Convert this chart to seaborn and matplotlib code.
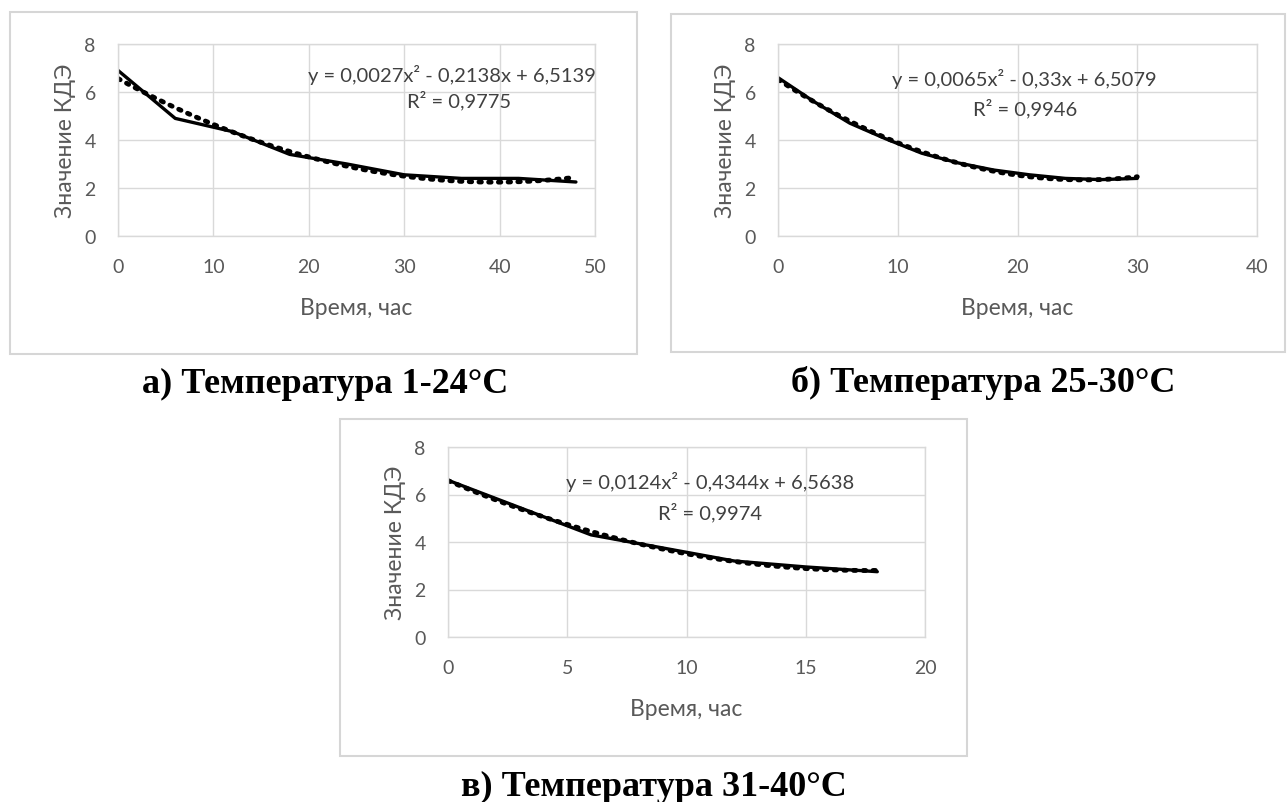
import pandas as pd
import seaborn as sns
import matplotlib.pyplot as plt
from matplotlib.patches import Rectangle

# а) Температура 1-24°C
hours_a = [0, 6, 12, 18, 24, 30, 36, 42, 48]
kde_a = [6.9, 4.9, 4.35, 3.4, 3.0, 2.55, 2.4, 2.4, 2.25]
# б) Температура 25-30°C
hours_b = [0, 3, 6, 9, 12, 15, 18, 21, 24, 27, 30]
kde_b = [6.6, 5.6, 4.7, 4.05, 3.45, 3.05, 2.75, 2.55, 2.4, 2.35, 2.4]
# в) Температура 31-40°C
hours_c = [0, 3, 6, 9, 12, 15, 18]
kde_c = [6.6, 5.45, 4.3, 3.75, 3.2, 2.95, 2.75]

equations = ["y = 0,0027x² - 0,2138x + 6,5139",
             "y = 0,0065x² - 0,33x + 6,5079",
             "y = 0,0124x² - 0,4344x + 6,5638"]
r_squared = ["R² = 0,9775", "R² = 0,9946", "R² = 0,9974"]
captions = ["а) Температура 1-24°C", "б) Температура 25-30°C", "в) Температура 31-40°C"]
x_limits = [50, 40, 20]
x_steps = [10, 10, 5]

sns.set_theme(style="white")
plt.rcParams["font.family"] = ["Lato", "DejaVu Sans"]

fig = plt.figure(figsize=(12.87, 8.03), dpi=100)

# layout in pixels: (left, top, right, bottom)
W, H = 1287, 803
axes_px = [(118, 45, 595, 237), (778, 45, 1257, 237), (448, 448, 925, 638)]
frame_px = [(10, 13, 637, 355), (671, 15, 1285, 353), (340, 420, 967, 757)]
caption_px = [(325, 384), (983, 383), (654, 787)]
# equation / R² label centres, in data units
eq_pos = [(35.0, 6.77, 35.7, 5.67), (20.6, 6.57, 20.6, 5.35), (11.0, 6.56, 11.0, 5.3)]

series = [(hours_a, kde_a), (hours_b, kde_b), (hours_c, kde_c)]

for i, (hrs, vals) in enumerate(series):
    fl, ft, fr, fb = frame_px[i]
    fig.patches.append(Rectangle((fl / W, 1 - fb / H), (fr - fl) / W, (fb - ft) / H,
                                 transform=fig.transFigure, fill=False,
                                 edgecolor="#d6d6d6", linewidth=1.5))
    l, t, r, b = axes_px[i]
    ax = fig.add_axes([l / W, 1 - b / H, (r - l) / W, (b - t) / H])
    df = pd.DataFrame({"Время, час": hrs, "Значение КДЭ": vals})

    # polynomial trend line (order 2), dotted
    sns.regplot(data=df, x="Время, час", y="Значение КДЭ", order=2, ci=None,
                scatter=False, ax=ax,
                line_kws=dict(color="black", linewidth=3.5, linestyle=(0, (0.5, 1.5)),
                              dash_capstyle="round"))
    sns.lineplot(data=df, x="Время, час", y="Значение КДЭ", ax=ax,
                 color="black", linewidth=2.4)

    ax.set_xlim(0, x_limits[i])
    ax.set_ylim(0, 8)
    ax.set_xticks(range(0, x_limits[i] + 1, x_steps[i]))
    ax.set_yticks([0, 2, 4, 6, 8])
    ax.grid(True, color="#d9d9d9", linewidth=1)
    for sp in ax.spines.values():
        sp.set_color("#d9d9d9")
        sp.set_linewidth(1)
    ax.tick_params(axis="x", length=0, pad=16, labelsize=14, labelcolor="#595959")
    ax.tick_params(axis="y", length=0, pad=16, labelsize=14, labelcolor="#595959")
    ax.set_xlabel("Время, час", fontsize=16.5, color="#595959", labelpad=16)
    ax.set_ylabel("Значение КДЭ", fontsize=16.5, color="#595959", labelpad=6)

    ex, ey, rx, ry = eq_pos[i]
    ax.text(ex, ey, equations[i], ha="center", va="center", fontsize=14.5,
            color="#404040", clip_on=False)
    ax.text(rx, ry, r_squared[i], ha="center", va="center", fontsize=14.5,
            color="#404040", clip_on=False)

    cx, cy = caption_px[i]
    fig.text(cx / W, 1 - cy / H, captions[i], ha="center", va="center",
             fontsize=26, fontweight="bold", family=["Liberation Serif", "DejaVu Serif"],
             color="black")

fig.savefig("out.png", dpi=100, facecolor="white")
